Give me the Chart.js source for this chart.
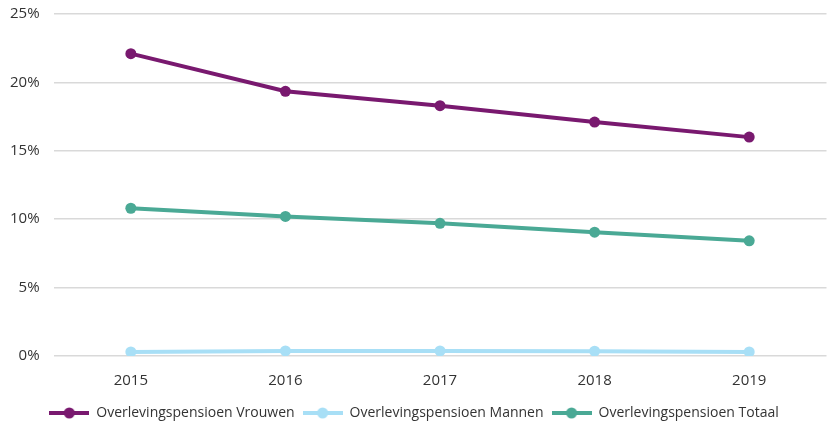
<!DOCTYPE html>
<html>
<head>
<meta charset="utf-8">
<script src="https://cdn.jsdelivr.net/npm/chart.js@4"></script>
<style>
  html, body { margin: 0; padding: 0; background: #fff; overflow: hidden; }
  #wrap { position: relative; width: 827px; height: 425px; overflow: hidden; }
  #grafiek { position: absolute; left: 0; top: -9px; }
</style>
</head>
<body>
<div id="wrap"><canvas id="grafiek" width="832" height="439"></canvas></div>
<script>
// jaren en percentages
const jaren = ["2015", "2016", "2017", "2018", "2019"];
const vrouwen = [22.1, 19.35, 18.3, 17.1, 16.0];
const mannen = [0.3, 0.37, 0.37, 0.35, 0.3];
const totaal = [10.8, 10.2, 9.7, 9.05, 8.42];

const kleurVrouwen = "#79196f";
const kleurMannen = "#a8dff6";
const kleurTotaal = "#4aa995";

// legenda-symbool: lijntje met bolletje in het midden
function legendaIcoon(kleur) {
  const c = document.createElement("canvas");
  c.width = 40;
  c.height = 12;
  const ctx = c.getContext("2d");
  ctx.strokeStyle = kleur;
  ctx.lineWidth = 4;
  ctx.beginPath();
  ctx.moveTo(0, 6);
  ctx.lineTo(40, 6);
  ctx.stroke();
  ctx.fillStyle = kleur;
  ctx.beginPath();
  ctx.arc(20, 6, 5.5, 0, Math.PI * 2);
  ctx.fill();
  return c;
}

function reeks(label, data, kleur) {
  return {
    label: label,
    data: data,
    borderColor: kleur,
    backgroundColor: kleur,
    borderWidth: 4,
    pointRadius: 5.5,
    pointHoverRadius: 5.5,
    pointBackgroundColor: kleur,
    pointBorderWidth: 0,
    tension: 0,
    icoon: legendaIcoon(kleur),
  };
}

const lettertype = "'Open Sans', sans-serif";

new Chart(document.getElementById("grafiek"), {
  type: "line",
  data: {
    labels: jaren,
    datasets: [
      reeks("Overlevingspensioen Vrouwen", vrouwen, kleurVrouwen),
      reeks("Overlevingspensioen Mannen", mannen, kleurMannen),
      reeks("Overlevingspensioen Totaal", totaal, kleurTotaal),
    ],
  },
  options: {
    responsive: false,
    animation: false,
    layout: { padding: { top: 0, left: -4, right: 0, bottom: 0 } },
    scales: {
      x: {
        offset: true,
        grid: { display: false },
        border: { display: false },
        ticks: {
          padding: 8,
          color: "#333",
          font: { family: lettertype, size: 15 },
        },
      },
      y: {
        min: 0,
        max: 25,
        grid: { color: "#d9d9d9", lineWidth: 1.5, drawTicks: false },
        border: { display: false },
        ticks: {
          stepSize: 5,
          padding: 14,
          color: "#333",
          font: { family: lettertype, size: 15 },
          callback: (v) => v + "%",
        },
      },
    },
    plugins: {
      tooltip: { enabled: false },
      legend: {
        position: "bottom",
        align: "center",
        labels: {
          usePointStyle: true,
          pointStyleWidth: 40,
          padding: 8,
          color: "#333",
          font: { family: lettertype, size: 14 },
          generateLabels: (chart) =>
            chart.data.datasets.map((ds, i) => ({
              text: ds.label,
              pointStyle: ds.icoon,
              fillStyle: ds.borderColor,
              strokeStyle: ds.borderColor,
              lineWidth: 0,
              fontColor: "#333",
              hidden: false,
              datasetIndex: i,
            })),
        },
      },
    },
  },
});
</script>
</body>
</html>
